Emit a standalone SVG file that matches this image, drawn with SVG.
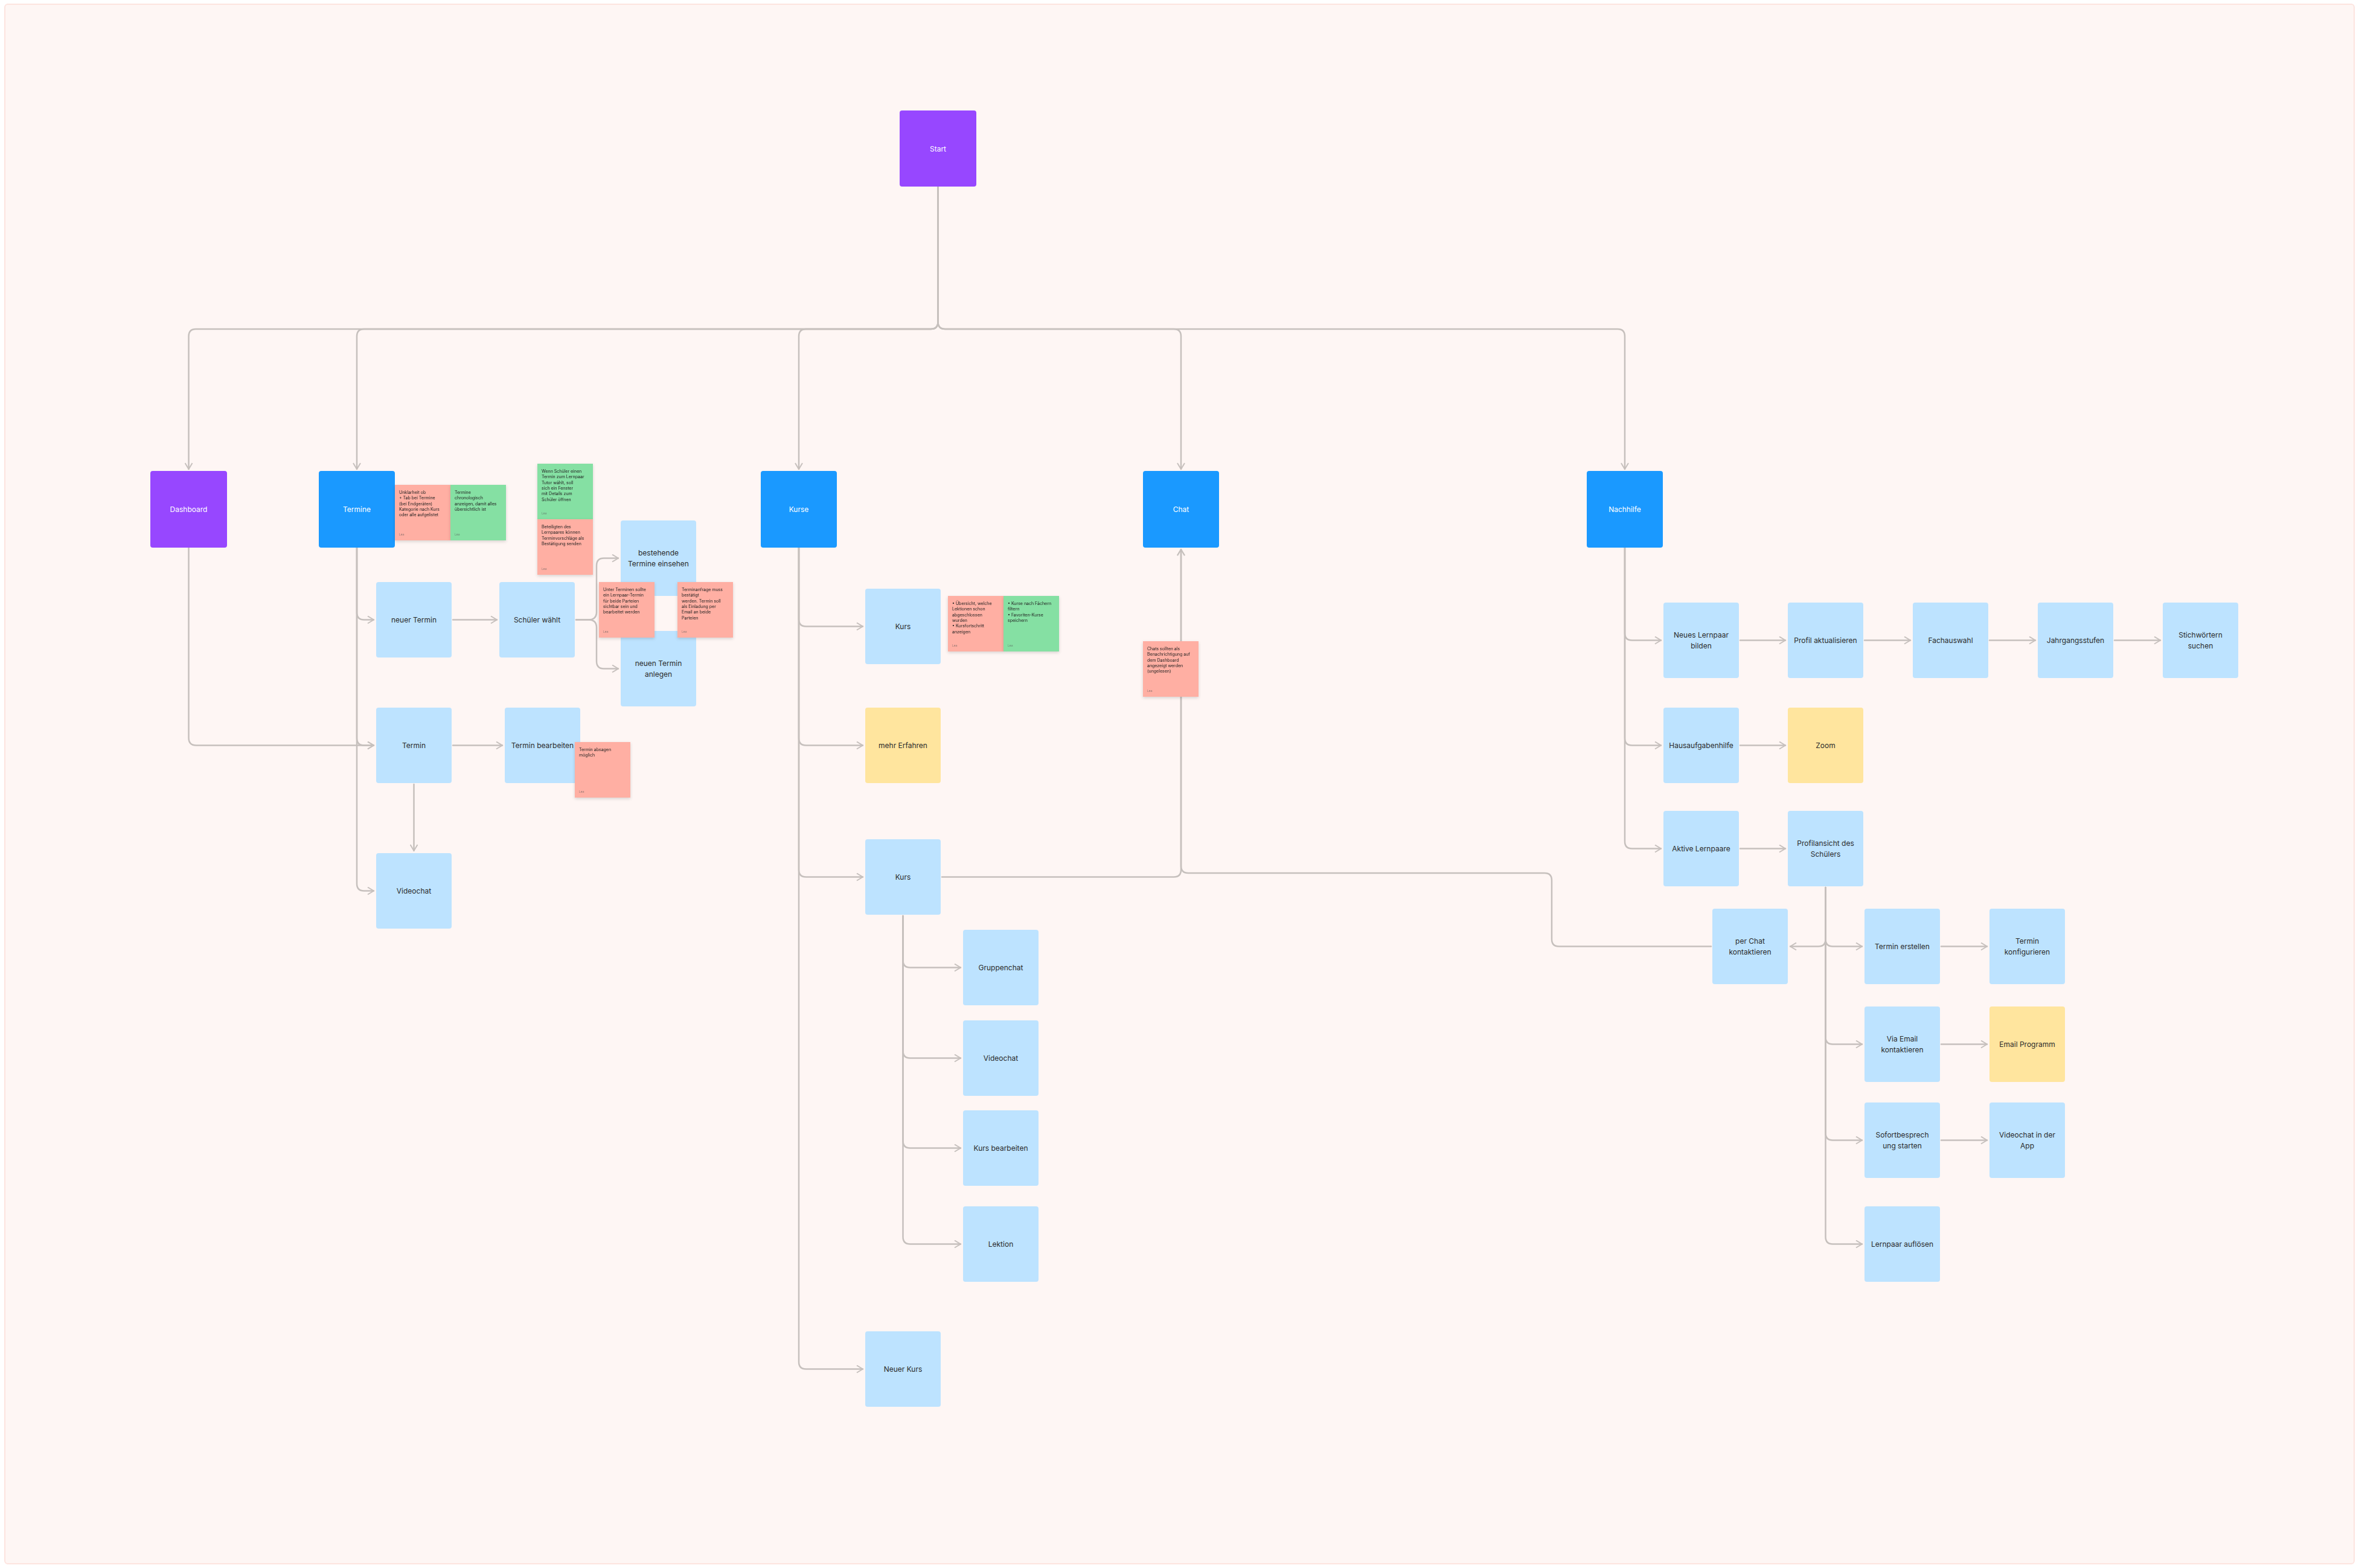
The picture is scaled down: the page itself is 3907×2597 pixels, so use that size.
<svg xmlns="http://www.w3.org/2000/svg" width="3907" height="2597" viewBox="0 0 3907 2597">
<style>
.n{font-family:Inter,"Noto Sans","Liberation Sans",sans-serif;font-size:12px;fill:#2a2a2a;text-anchor:middle;dominant-baseline:central}
.w{fill:#ffffff}
.s{font-family:Inter,"Noto Sans","Liberation Sans",sans-serif;font-size:7px;fill:#222}
.a{font-family:Inter,"Noto Sans","Liberation Sans",sans-serif;font-size:5px;fill:#555;opacity:.6}
.pu{fill:#9747FF}
.bl{fill:#1A99FF}
.lb{fill:#BDE3FF}
.ye{fill:#FFE59E}
.rd{fill:#FFAFA3}
.gr{fill:#85E0A3}
.c path{fill:none;stroke:#C6C0BD;stroke-width:2.5;stroke-linecap:round}
.c path.e{marker-end:url(#ah)}
</style>
<defs>
<marker id="ah" viewBox="0 0 12 14" refX="11" refY="7" markerWidth="12" markerHeight="14" orient="auto" markerUnits="userSpaceOnUse">
<path d="M1,1 L11,7 L1,13" fill="none" stroke="#C6C0BD" stroke-width="2"/>
</marker>
<filter id="sh" x="-10%" y="-10%" width="120%" height="125%">
<feDropShadow dx="0" dy="2" stdDeviation="2.5" flood-color="#000" flood-opacity="0.15"/>
</filter>
</defs>
<rect x="0" y="0" width="3907" height="2597" fill="#ffffff"/>
<rect x="8" y="7" width="3891" height="2583" rx="5" fill="#FEF6F4" stroke="#FDE4DF" stroke-width="2"/>

<g id="connectors" class="c">
<!-- Start to top-level -->
<path class="e" d="M1553.5,309 V533 Q1553.5,545 1541.5,545 H324.5 Q312.5,545 312.5,557 V777"/>
<path class="e" d="M1553.5,309 V533 Q1553.5,545 1541.5,545 H603 Q591,545 591,557 V777"/>
<path class="e" d="M1553.5,309 V533 Q1553.5,545 1541.5,545 H1335 Q1323,545 1323,557 V777"/>
<path class="e" d="M1553.5,309 V533 Q1553.5,545 1565.5,545 H1944 Q1956,545 1956,557 V777"/>
<path class="e" d="M1553.5,309 V533 Q1553.5,545 1565.5,545 H2679 Q2691,545 2691,557 V777"/>
<!-- Dashboard -->
<path class="e" d="M312.5,907 V1222 Q312.5,1234.5 325,1234.5 H619"/>
<!-- Termine trunk -->
<path class="e" d="M591,907 V1014.5 Q591,1026.5 603,1026.5 H619"/>
<path class="e" d="M591,907 V1222.5 Q591,1234.5 603,1234.5 H619"/>
<path class="e" d="M591,907 V1463.5 Q591,1475.5 603,1475.5 H619"/>
<path class="e" d="M750,1026.5 H823"/>
<path class="e" d="M954,1026.5 H975 Q988,1026.5 988,1013.5 V937 Q988,924.5 1000,924.5 H1024"/>
<path class="e" d="M954,1026.5 H975 Q988,1026.5 988,1039.5 V1095 Q988,1107.5 1000,1107.5 H1024"/>
<path class="e" d="M750,1234.5 H832"/>
<path class="e" d="M685.5,1299 V1409"/>
<!-- Kurse trunk -->
<path class="e" d="M1323,907 V1025.5 Q1323,1037.5 1335,1037.5 H1429"/>
<path class="e" d="M1323,907 V1222.5 Q1323,1234.5 1335,1234.5 H1429"/>
<path class="e" d="M1323,907 V1440.5 Q1323,1452.5 1335,1452.5 H1429"/>
<path class="e" d="M1323,907 V2255.5 Q1323,2267.5 1335,2267.5 H1429"/>
<!-- Kurs 2 trunk -->
<path class="e" d="M1495.5,1517 V1590.5 Q1495.5,1602.5 1507.5,1602.5 H1591"/>
<path class="e" d="M1495.5,1517 V1740.5 Q1495.5,1752.5 1507.5,1752.5 H1591"/>
<path class="e" d="M1495.5,1517 V1889.5 Q1495.5,1901.5 1507.5,1901.5 H1591"/>
<path class="e" d="M1495.5,1517 V2048.5 Q1495.5,2060.5 1507.5,2060.5 H1591"/>
<!-- to Chat -->
<path class="e" d="M1560,1452.5 H1944 Q1956,1452.5 1956,1440.5 V910"/>
<path class="e" d="M2834,1567.5 H2582 Q2570,1567.5 2570,1555.5 V1458 Q2570,1446 2558,1446 H1968 Q1956,1446 1956,1434 V910"/>
<!-- Nachhilfe trunk -->
<path class="e" d="M2691,907 V1048.5 Q2691,1060.5 2703,1060.5 H2751"/>
<path class="e" d="M2691,907 V1222.5 Q2691,1234.5 2703,1234.5 H2751"/>
<path class="e" d="M2691,907 V1393.5 Q2691,1405.5 2703,1405.5 H2751"/>
<path class="e" d="M2882,1060.5 H2957"/>
<path class="e" d="M3088,1060.5 H3164"/>
<path class="e" d="M3295,1060.5 H3371"/>
<path class="e" d="M3502,1060.5 H3578"/>
<path class="e" d="M2882,1234.5 H2957"/>
<path class="e" d="M2882,1405.5 H2957"/>
<!-- Profilansicht trunk -->
<path class="e" d="M3023.5,1470 V1555.5 Q3023.5,1567.5 3011.5,1567.5 H2965"/>
<path class="e" d="M3023.5,1470 V1555.5 Q3023.5,1567.5 3035.5,1567.5 H3084"/>
<path class="e" d="M3023.5,1470 V1717.5 Q3023.5,1729.5 3035.5,1729.5 H3084"/>
<path class="e" d="M3023.5,1470 V1876.5 Q3023.5,1888.5 3035.5,1888.5 H3084"/>
<path class="e" d="M3023.5,1470 V2048.5 Q3023.5,2060.5 3035.5,2060.5 H3084"/>
<path class="e" d="M3215,1567.5 H3291"/>
<path class="e" d="M3215,1729.5 H3291"/>
<path class="e" d="M3215,1888.5 H3291"/>
</g>

<g id="start"><rect class="pu" x="1490" y="183" width="127" height="126" rx="4"/><text class="n w" x="1553.5" y="246">Start</text></g>
<g id="dashboard"><rect class="pu" x="249" y="780" width="127" height="127" rx="4"/><text class="n w" x="312.5" y="843.5">Dashboard</text></g>
<g id="termine"><rect class="bl" x="528" y="780" width="126" height="127" rx="4"/><text class="n w" x="591" y="843.5">Termine</text></g>
<g id="kurse"><rect class="bl" x="1260" y="780" width="126" height="127" rx="4"/><text class="n w" x="1323" y="843.5">Kurse</text></g>
<g id="chat"><rect class="bl" x="1893" y="780" width="126" height="127" rx="4"/><text class="n w" x="1956" y="843.5">Chat</text></g>
<g id="nachhilfe"><rect class="bl" x="2628" y="780" width="126" height="127" rx="4"/><text class="n w" x="2691" y="843.5">Nachhilfe</text></g>

<g id="neuer-termin"><rect class="lb" x="623" y="964" width="125" height="125" rx="4"/><text class="n" x="685.5" y="1026.5">neuer Termin</text></g>
<g id="schueler-waehlt"><rect class="lb" x="827" y="964" width="125" height="125" rx="4"/><text class="n" x="889.5" y="1026.5">Schüler wählt</text></g>
<g id="bestehende-termine"><rect class="lb" x="1028" y="862" width="125" height="125" rx="4"/><text class="n" x="1090.5" y="915.75">bestehende</text><text class="n" x="1090.5" y="933.25">Termine einsehen</text></g>
<g id="neuen-termin-anlegen"><rect class="lb" x="1028" y="1045" width="125" height="125" rx="4"/><text class="n" x="1090.5" y="1098.75">neuen Termin</text><text class="n" x="1090.5" y="1116.25">anlegen</text></g>
<g id="termin"><rect class="lb" x="623" y="1172" width="125" height="125" rx="4"/><text class="n" x="685.5" y="1234.5">Termin</text></g>
<g id="termin-bearbeiten"><rect class="lb" x="836" y="1172" width="125" height="125" rx="4"/><text class="n" x="898.5" y="1234.5">Termin bearbeiten</text></g>
<g id="videochat-termin"><rect class="lb" x="623" y="1413" width="125" height="125" rx="4"/><text class="n" x="685.5" y="1475.5">Videochat</text></g>

<g id="kurs-1"><rect class="lb" x="1433" y="975" width="125" height="125" rx="4"/><text class="n" x="1495.5" y="1037.5">Kurs</text></g>
<g id="mehr-erfahren"><rect class="ye" x="1433" y="1172" width="125" height="125" rx="4"/><text class="n" x="1495.5" y="1234.5">mehr Erfahren</text></g>
<g id="kurs-2"><rect class="lb" x="1433" y="1390" width="125" height="125" rx="4"/><text class="n" x="1495.5" y="1452.5">Kurs</text></g>
<g id="gruppenchat"><rect class="lb" x="1595" y="1540" width="125" height="125" rx="4"/><text class="n" x="1657.5" y="1602.5">Gruppenchat</text></g>
<g id="videochat-kurs"><rect class="lb" x="1595" y="1690" width="125" height="125" rx="4"/><text class="n" x="1657.5" y="1752.5">Videochat</text></g>
<g id="kurs-bearbeiten"><rect class="lb" x="1595" y="1839" width="125" height="125" rx="4"/><text class="n" x="1657.5" y="1901.5">Kurs bearbeiten</text></g>
<g id="lektion"><rect class="lb" x="1595" y="1998" width="125" height="125" rx="4"/><text class="n" x="1657.5" y="2060.5">Lektion</text></g>
<g id="neuer-kurs"><rect class="lb" x="1433" y="2205" width="125" height="125" rx="4"/><text class="n" x="1495.5" y="2267.5">Neuer Kurs</text></g>

<g id="neues-lernpaar"><rect class="lb" x="2755" y="998" width="125" height="125" rx="4"/><text class="n" x="2817.5" y="1051.75">Neues Lernpaar</text><text class="n" x="2817.5" y="1069.25">bilden</text></g>
<g id="profil-aktualisieren"><rect class="lb" x="2961" y="998" width="125" height="125" rx="4"/><text class="n" x="3023.5" y="1060.5">Profil aktualisieren</text></g>
<g id="fachauswahl"><rect class="lb" x="3168" y="998" width="125" height="125" rx="4"/><text class="n" x="3230.5" y="1060.5">Fachauswahl</text></g>
<g id="jahrgangsstufen"><rect class="lb" x="3375" y="998" width="125" height="125" rx="4"/><text class="n" x="3437.5" y="1060.5">Jahrgangsstufen</text></g>
<g id="stichwoerter"><rect class="lb" x="3582" y="998" width="125" height="125" rx="4"/><text class="n" x="3644.5" y="1051.75">Stichwörtern</text><text class="n" x="3644.5" y="1069.25">suchen</text></g>
<g id="hausaufgabenhilfe"><rect class="lb" x="2755" y="1172" width="125" height="125" rx="4"/><text class="n" x="2817.5" y="1234.5">Hausaufgabenhilfe</text></g>
<g id="zoom"><rect class="ye" x="2961" y="1172" width="125" height="125" rx="4"/><text class="n" x="3023.5" y="1234.5">Zoom</text></g>
<g id="aktive-lernpaare"><rect class="lb" x="2755" y="1343" width="125" height="125" rx="4"/><text class="n" x="2817.5" y="1405.5">Aktive Lernpaare</text></g>
<g id="profilansicht"><rect class="lb" x="2961" y="1343" width="125" height="125" rx="4"/><text class="n" x="3023.5" y="1396.75">Profilansicht des</text><text class="n" x="3023.5" y="1414.25">Schülers</text></g>
<g id="per-chat"><rect class="lb" x="2836" y="1505" width="125" height="125" rx="4"/><text class="n" x="2898.5" y="1558.75">per Chat</text><text class="n" x="2898.5" y="1576.25">kontaktieren</text></g>
<g id="termin-erstellen"><rect class="lb" x="3088" y="1505" width="125" height="125" rx="4"/><text class="n" x="3150.5" y="1567.5">Termin erstellen</text></g>
<g id="termin-konfigurieren"><rect class="lb" x="3295" y="1505" width="125" height="125" rx="4"/><text class="n" x="3357.5" y="1558.75">Termin</text><text class="n" x="3357.5" y="1576.25">konfigurieren</text></g>
<g id="via-email"><rect class="lb" x="3088" y="1667" width="125" height="125" rx="4"/><text class="n" x="3150.5" y="1720.75">Via Email</text><text class="n" x="3150.5" y="1738.25">kontaktieren</text></g>
<g id="email-programm"><rect class="ye" x="3295" y="1667" width="125" height="125" rx="4"/><text class="n" x="3357.5" y="1729.5">Email Programm</text></g>
<g id="sofortbesprechung"><rect class="lb" x="3088" y="1826" width="125" height="125" rx="4"/><text class="n" x="3150.5" y="1879.75">Sofortbesprech</text><text class="n" x="3150.5" y="1897.25">ung starten</text></g>
<g id="videochat-app"><rect class="lb" x="3295" y="1826" width="125" height="125" rx="4"/><text class="n" x="3357.5" y="1879.75">Videochat in der</text><text class="n" x="3357.5" y="1897.25">App</text></g>
<g id="lernpaar-aufloesen"><rect class="lb" x="3088" y="1998" width="125" height="125" rx="4"/><text class="n" x="3150.5" y="2060.5">Lernpaar auflösen</text></g>

<g id="note-termine-red" filter="url(#sh)"><rect class="rd" x="654" y="803" width="92" height="92"/>
<text class="s" x="661" y="818">Unklarheit ob</text><text class="s" x="661" y="827.3">+ Tab bei Termine</text><text class="s" x="661" y="836.6">(bei Endgeräten)</text><text class="s" x="661" y="845.9">Kategorie nach Kurs</text><text class="s" x="661" y="855.2">oder alle aufgelistet</text><text class="a" x="661" y="887">Lea</text></g>
<g id="note-termine-green" filter="url(#sh)"><rect class="gr" x="746" y="803" width="92" height="92"/>
<text class="s" x="753" y="818">Termine</text><text class="s" x="753" y="827.3">chronologisch</text><text class="s" x="753" y="836.6">anzeigen, damit alles</text><text class="s" x="753" y="845.9">übersichtlich ist</text><text class="a" x="753" y="887">Lea</text></g>
<g id="note-schueler-green" filter="url(#sh)"><rect class="gr" x="890" y="768" width="92" height="92"/>
<text class="s" x="897" y="783">Wenn Schüler einen</text><text class="s" x="897" y="792.3">Termin zum Lernpaar</text><text class="s" x="897" y="801.6">Tutor wählt, soll</text><text class="s" x="897" y="810.9">sich ein Fenster</text><text class="s" x="897" y="820.2">mit Details zum</text><text class="s" x="897" y="829.5">Schüler öffnen</text><text class="a" x="897" y="852">Lea</text></g>
<g id="note-schueler-red" filter="url(#sh)"><rect class="rd" x="890" y="860" width="92" height="92"/>
<text class="s" x="897" y="875">Beteiligten des</text><text class="s" x="897" y="884.3">Lernpaares können</text><text class="s" x="897" y="893.6">Terminvorschläge als</text><text class="s" x="897" y="902.9">Bestätigung senden</text><text class="a" x="897" y="944">Lea</text></g>
<g id="note-left-red" filter="url(#sh)"><rect class="rd" x="992" y="964" width="92" height="92"/>
<text class="s" x="999" y="979">Unter Terminen sollte</text><text class="s" x="999" y="988.3">ein Lernpaar-Termin</text><text class="s" x="999" y="997.6">für beide Parteien</text><text class="s" x="999" y="1006.9">sichtbar sein und</text><text class="s" x="999" y="1016.2">bearbeitet werden</text><text class="a" x="999" y="1048">Lea</text></g>
<g id="note-right-red" filter="url(#sh)"><rect class="rd" x="1122" y="964" width="92" height="92"/>
<text class="s" x="1129" y="979">Terminanfrage muss</text><text class="s" x="1129" y="988.3">bestätigt</text><text class="s" x="1129" y="997.6">werden. Termin soll</text><text class="s" x="1129" y="1006.9">als Einladung per</text><text class="s" x="1129" y="1016.2">Email an beide</text><text class="s" x="1129" y="1025.5">Parteien</text><text class="a" x="1129" y="1048">Lea</text></g>
<g id="note-bearbeiten-red" filter="url(#sh)"><rect class="rd" x="952" y="1229" width="92" height="92"/>
<text class="s" x="959" y="1244">Termin absagen</text><text class="s" x="959" y="1253.3">möglich</text><text class="a" x="959" y="1313">Lea</text></g>
<g id="note-kurs-red" filter="url(#sh)"><rect class="rd" x="1570" y="987" width="92" height="92"/>
<text class="s" x="1577" y="1002">• Übersicht, welche</text><text class="s" x="1577" y="1011.3">   Lektionen schon</text><text class="s" x="1577" y="1020.6">   abgeschlossen</text><text class="s" x="1577" y="1029.9">   wurden</text><text class="s" x="1577" y="1039.2">• Kursfortschritt</text><text class="s" x="1577" y="1048.5">   anzeigen</text><text class="a" x="1577" y="1071">Lea</text></g>
<g id="note-kurs-green" filter="url(#sh)"><rect class="gr" x="1662" y="987" width="92" height="92"/>
<text class="s" x="1669" y="1002">• Kurse nach Fächern</text><text class="s" x="1669" y="1011.3">   filtern</text><text class="s" x="1669" y="1020.6">• Favoriten-Kurse</text><text class="s" x="1669" y="1029.9">   speichern</text><text class="a" x="1669" y="1071">Lea</text></g>
<g id="note-chat-red" filter="url(#sh)"><rect class="rd" x="1893" y="1062" width="92" height="92"/>
<text class="s" x="1900" y="1077">Chats sollten als</text><text class="s" x="1900" y="1086.3">Benachrichtigung auf</text><text class="s" x="1900" y="1095.6">dem Dashboard</text><text class="s" x="1900" y="1104.9">angezeigt werden</text><text class="s" x="1900" y="1114.2">(ungelesen)</text><text class="a" x="1900" y="1146">Lea</text></g>
</svg>
